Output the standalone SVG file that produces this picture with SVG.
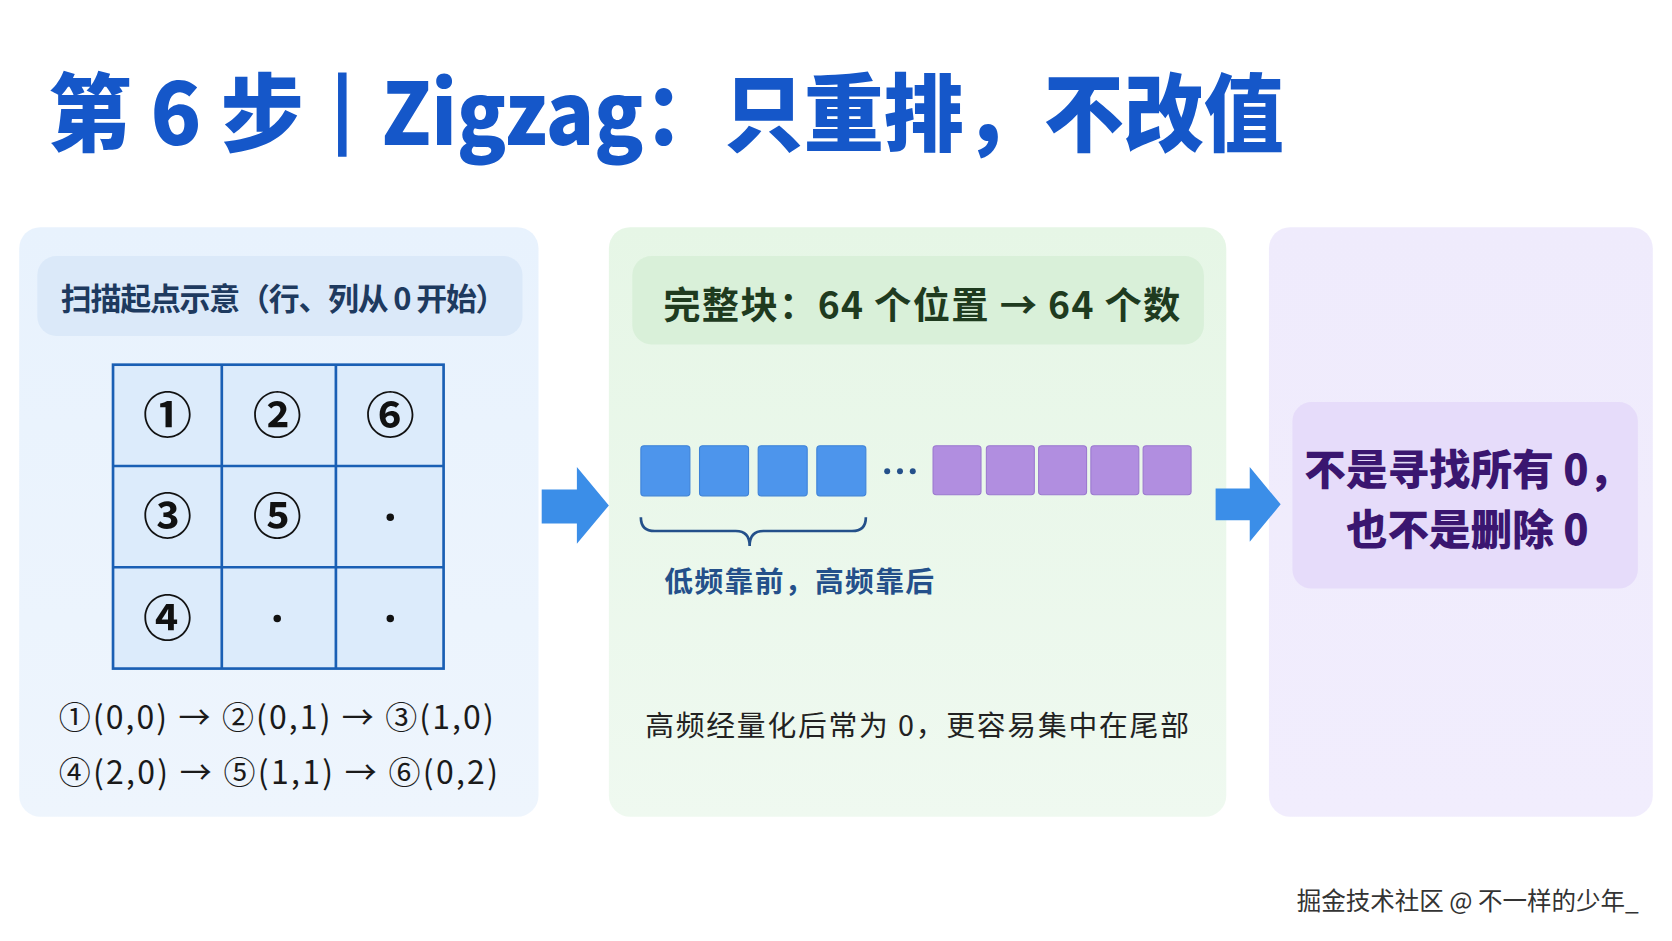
<svg xmlns="http://www.w3.org/2000/svg" width="1672" height="941" viewBox="0 0 1672 941">
<style>
text{font-family:"Noto Sans CJK SC","Noto Sans",sans-serif}
.t{fill:#1557c9;font-weight:900;font-size:80px}
.cn{font-size:46px;fill:#111;text-anchor:middle;font-weight:700}
.seq{font-size:30px;fill:#1a1a1a}
.bsq{fill:#4d95ec;stroke:#3d82d8;stroke-width:1}
.psq{fill:#b18ee0;stroke:#9b78cf;stroke-width:1}
.arr{fill:#3b8ee8}
</style>
<defs>
<linearGradient id="gl" x1="0" y1="0" x2="0" y2="1"><stop offset="0" stop-color="#e8f2fd"/><stop offset="1" stop-color="#eef5fd"/></linearGradient>
<linearGradient id="gm" x1="0" y1="0" x2="0" y2="1"><stop offset="0" stop-color="#e6f6e6"/><stop offset="1" stop-color="#eff9f0"/></linearGradient>
<linearGradient id="gr" x1="0" y1="0" x2="0" y2="1"><stop offset="0" stop-color="#efebfc"/><stop offset="1" stop-color="#f1edfd"/></linearGradient>
</defs>
<rect width="1672" height="941" fill="#ffffff"/>
<g transform="scale(1.06633)">
<g id="title">
<text class="t" x="45" y="136" textLength="240" lengthAdjust="spacingAndGlyphs">第 6 步</text>
<rect x="317" y="68" width="8" height="79" fill="#1557c9"/>
<text class="t" x="358" y="136" textLength="846" lengthAdjust="spacingAndGlyphs">Zigzag：只重排，不改值</text>
</g>
<g id="left">
<rect x="18" y="213" width="487" height="553" rx="20" fill="url(#gl)"/>
<rect x="35" y="240" width="455" height="75" rx="18" fill="#dbe9f9"/>
<text x="57" y="291" font-size="29" font-weight="700" fill="#1e3a5f" textLength="418">扫描起点示意（行、列从 0 开始）</text>
<rect x="106" y="342" width="310" height="285" fill="#dcebfb" stroke="#1a5fb4" stroke-width="2.5"/>
<path d="M208 342V627M315 342V627M106 437H416M106 532H416" stroke="#1a5fb4" stroke-width="2.5" fill="none"/>
<text class="cn" x="157" y="406">①</text>
<text class="cn" x="260" y="406">②</text>
<text class="cn" x="366" y="406">⑥</text>
<text class="cn" x="157" y="501">③</text>
<text class="cn" x="260" y="501">⑤</text>
<circle cx="366" cy="485" r="3.5" fill="#111"/>
<text class="cn" x="157" y="596">④</text>
<circle cx="260" cy="580" r="3.5" fill="#111"/>
<circle cx="366" cy="580" r="3.5" fill="#111"/>
<text class="seq" x="55" y="684" textLength="408">①(0,0) → ②(0,1) → ③(1,0)</text>
<text class="seq" x="55" y="735" textLength="412">④(2,0) → ⑤(1,1) → ⑥(0,2)</text>
</g>
<g id="middle">
<rect x="571" y="213" width="579" height="553" rx="20" fill="url(#gm)"/>
<rect x="593" y="240" width="536" height="83" rx="18" fill="#d9f0d9"/>
<text x="622" y="299" font-size="35" font-weight="700" fill="#1f3b1f" textLength="485">完整块：64 个位置 → 64 个数</text>
<rect class="bsq" x="601" y="418" width="46" height="47" rx="3"/>
<rect class="bsq" x="656" y="418" width="46" height="47" rx="3"/>
<rect class="bsq" x="711" y="418" width="46" height="47" rx="3"/>
<rect class="bsq" x="766" y="418" width="46" height="47" rx="3"/>
<circle cx="832" cy="442" r="2.8" fill="#24508a"/>
<circle cx="844" cy="442" r="2.8" fill="#24508a"/>
<circle cx="856" cy="442" r="2.8" fill="#24508a"/>
<rect class="psq" x="875" y="418" width="45" height="46" rx="3"/>
<rect class="psq" x="925" y="418" width="45" height="46" rx="3"/>
<rect class="psq" x="974" y="418" width="45" height="46" rx="3"/>
<rect class="psq" x="1023" y="418" width="45" height="46" rx="3"/>
<rect class="psq" x="1072" y="418" width="45" height="46" rx="3"/>
<path d="M601 485Q601 498 614 498H690Q703 498 703 512Q703 498 716 498H799Q812 498 812 485" fill="none" stroke="#24508a" stroke-width="2.5"/>
<text x="623" y="555" font-size="27" font-weight="700" fill="#24508a" textLength="253">低频靠前，高频靠后</text>
<text x="605" y="690" font-size="27" fill="#222" textLength="510">高频经量化后常为 0，更容易集中在尾部</text>
</g>
<g id="right">
<rect x="1190" y="213" width="360" height="553" rx="20" fill="url(#gr)"/>
<rect x="1212" y="377" width="324" height="175" rx="18" fill="#e6dcfa"/>
<text x="1376" y="455" font-size="39" font-weight="900" fill="#3a1670" text-anchor="middle">不是寻找所有 0，</text>
<text x="1376" y="511" font-size="39" font-weight="900" fill="#3a1670" text-anchor="middle">也不是删除 0</text>
</g>
<g id="connectors">
<path class="arr" d="M508 459H541V438L571 474L541 510V491H508Z"/>
<path class="arr" d="M1140 458H1172V438L1201 473L1172 508V488H1140Z"/>
</g>
<text x="1216" y="853" font-size="23" fill="#333">掘金技术社区 @ 不一样的少年_</text>
</g>
</svg>
